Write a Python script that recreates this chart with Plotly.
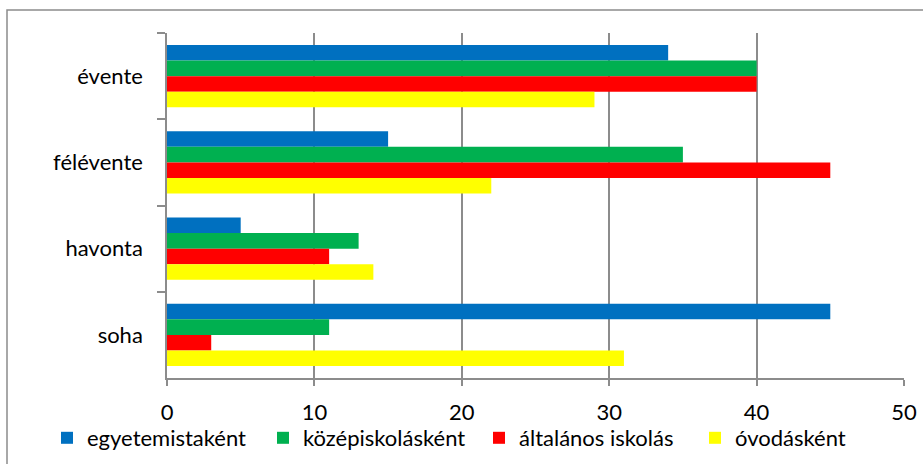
import plotly.graph_objects as go

categories = ["évente", "félévente", "havonta", "soha"]
series_names = ["egyetemistaként", "középiskolásként", "általános iskolás", "óvodásként"]
egyetemista = [34, 15, 5, 45]
kozepiskolas = [40, 35, 13, 11]
altalanos = [40, 45, 11, 3]
ovodas = [29, 22, 14, 31]
colors = ["#0070C0", "#00B050", "#FF0000", "#FFFF00"]
x_ticks = [0, 10, 20, 30, 40, 50]

FONT = "Lato"
FS = 22
fig = go.Figure()
for name, vals, col in zip(series_names, [egyetemista, kozepiskolas, altalanos, ovodas], colors):
    fig.add_trace(go.Bar(y=categories, x=vals, name=name, orientation="h",
                         marker=dict(color=col, line=dict(width=0))))

W, H = 923, 464
L, R, T, B = 167, 19, 33, 86
pw, ph = W - L - R, H - T - B

fig.update_layout(
    width=W, height=H,
    margin=dict(l=L, r=R, t=T, b=B, autoexpand=False),
    paper_bgcolor="white", plot_bgcolor="white",
    barmode="group", bargap=0.28, bargroupgap=0,
    font=dict(family=FONT, size=FS, color="#000000"),
    showlegend=True,
    legend=dict(orientation="h", x=(47 - L) / pw, xanchor="left",
                y=-(438 - (T + ph)) / ph, yanchor="middle",
                entrywidth=171, entrywidthmode="pixels",
                font=dict(family=FONT, size=FS, color="#000000"),
                traceorder="normal", bgcolor="rgba(0,0,0,0)"),
    xaxis=dict(range=[0, 50], tickvals=x_ticks, showgrid=True, gridcolor="#8C8C8C",
               gridwidth=1.5, showline=True, linecolor="#8C8C8C", linewidth=1.5,
               ticks="outside", ticklen=6, tickcolor="#8C8C8C", tickwidth=1.5,
               ticklabelstandoff=8, zeroline=False, automargin=False),
    yaxis=dict(autorange="reversed", type="category", showline=True, linecolor="#8C8C8C",
               linewidth=1.5, ticks="outside", tickson="boundaries", ticklen=8,
               tickcolor="#8C8C8C", tickwidth=1.5, ticklabelstandoff=18, showgrid=False,
               automargin=False),
    shapes=[dict(type="rect", xref="paper", yref="paper",
                 x0=(7 - L) / pw, x1=1.2, y0=-0.5, y1=1 + (T - 10) / ph,
                 line=dict(color="#8C8C8C", width=1.5), fillcolor="rgba(0,0,0,0)", layer="below")],
)

fig.write_html("out.html", config={"displayModeBar": False},
               post_script="document.body.style.margin='0px';")
